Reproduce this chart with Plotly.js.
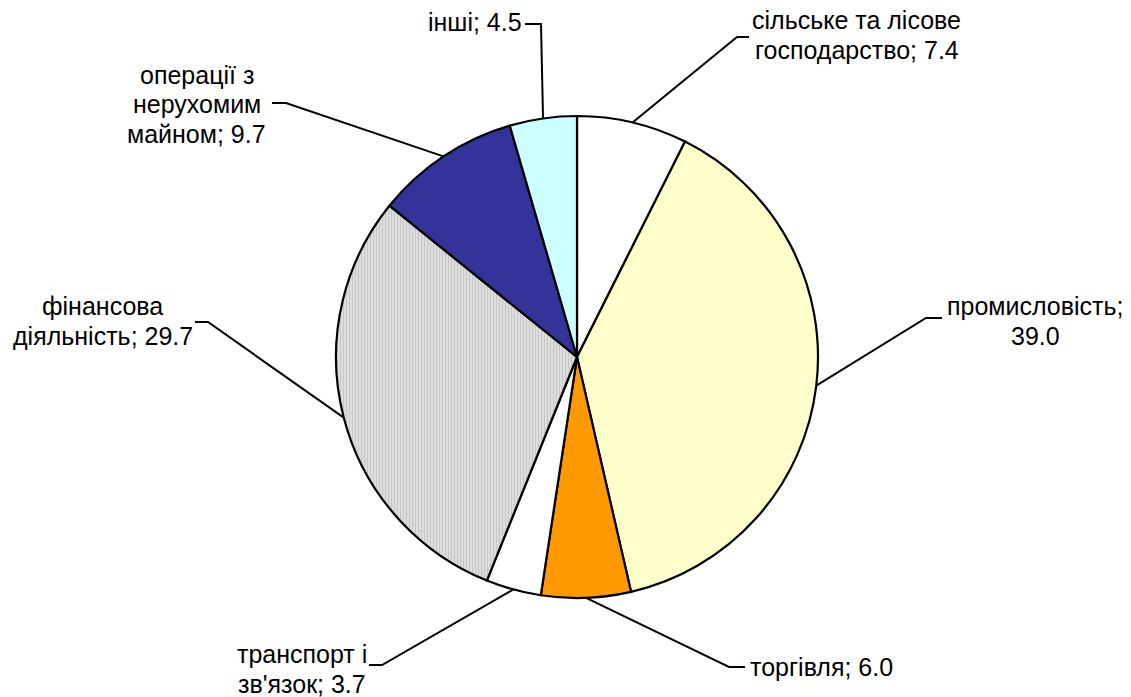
<!DOCTYPE html>
<html>
<head>
<meta charset="utf-8">
<script src="https://cdn.plot.ly/plotly-3.0.1.min.js"></script>
<style>html,body{margin:0;padding:0;background:#fff;}#chart{width:1131px;height:697px;}</style>
</head>
<body>
<div id="chart"></div>
<script>
// ---- data ----
var categories = ["сільське та лісове господарство", "промисловість", "торгівля", "транспорт і зв'язок", "фінансова діяльність", "операції з нерухомим майном", "інші"];
var values = [7.4, 39.0, 6.0, 3.7, 29.7, 9.7, 4.5];
var labelLines = [
  ["сільське та лісове", "господарство; 7.4"],
  ["промисловість;", "39.0"],
  ["торгівля; 6.0"],
  ["транспорт і", "зв'язок; 3.7"],
  ["фінансова", "діяльність; 29.7"],
  ["операції з", "нерухомим", "майном; 9.7"],
  ["інші; 4.5"]
];

// ---- style / layout ----
var colors = ["#FFFFFF", "#FFFFCC", "#FF9900", "#FFFFFF", "#DDDDDD", "#333399", "#CCFFFF"];
var patterns = ["", "", "", "", "|", "", ""];
var W = 1131, H = 697;
var cxPx = 577, cyPx = 357, rPx = 241;
var FONT_SIZE = 25, LINE_H = 29.5, FONT_FAMILY = "Liberation Sans";
// label placement (pixels from top-left): block edge (tx, side), block centre y, elbow and end of leader
var labelPos = [
  {tx: 752, side: "left",  ty: 35,  ex: 737, ey: 37,  hx: 749},
  {tx: 947, side: "left",  ty: 321, ex: 926, ey: 318, hx: 942},
  {tx: 750, side: "left",  ty: 667, ex: 729, ey: 667, hx: 745},
  {tx: 367, side: "right", ty: 669, ex: 382, ey: 665, hx: 369},
  {tx: 193, side: "right", ty: 321, ex: 208, ey: 322, hx: 195},
  {tx: 266, side: "right", ty: 104, ex: 286, ey: 103, hx: 272},
  {tx: 522, side: "right", ty: 22,  ex: 541, ey: 24,  hx: 525}
];

var domX = [(cxPx - rPx) / W, (cxPx + rPx) / W];
var domY = [(H - cyPx - rPx) / H, (H - cyPx + rPx) / H];

function px2x(x) { return x / W; }
function py2y(y) { return 1 - y / H; }

var ctx = document.createElement("canvas").getContext("2d");
ctx.font = FONT_SIZE + "px '" + FONT_FAMILY + "', Arial, sans-serif";
function tw(s) { return ctx.measureText(s).width; }

var total = values.reduce(function (a, b) { return a + b; }, 0);
var cx = (domX[0] + domX[1]) / 2 * W;
var cy = H - (domY[0] + domY[1]) / 2 * H;
var r = Math.min((domX[1] - domX[0]) * W, (domY[1] - domY[0]) * H) / 2;

var shapes = [], annotations = [];
var cum = 0;
for (var i = 0; i < values.length; i++) {
  var mid = (cum + values[i] / 2) / total * 2 * Math.PI;
  cum += values[i];
  var sx = cx + r * Math.sin(mid);
  var sy = cy - r * Math.cos(mid);
  var p = labelPos[i];
  shapes.push({
    type: "path", xref: "paper", yref: "paper",
    path: "M " + px2x(sx) + " " + py2y(sy) + " L " + px2x(p.ex) + " " + py2y(p.ey) + " L " + px2x(p.hx) + " " + py2y(p.ey),
    line: {color: "#000000", width: 2}
  });
  var lines = labelLines[i];
  var maxW = Math.max.apply(null, lines.map(tw));
  var bc = p.side === "left" ? p.tx + maxW / 2 : p.tx - maxW / 2;
  for (var j = 0; j < lines.length; j++) {
    var ly = p.ty + (j - (lines.length - 1) / 2) * LINE_H;
    annotations.push({
      xref: "paper", yref: "paper", x: px2x(bc), y: py2y(ly),
      xanchor: "center", yanchor: "middle", align: "center", showarrow: false,
      text: lines[j],
      font: {family: FONT_FAMILY + ", Arial, sans-serif", size: FONT_SIZE, color: "#000000"}
    });
  }
}

var trace = {
  type: "pie",
  labels: categories,
  values: values,
  sort: false,
  direction: "clockwise",
  rotation: 0,
  textinfo: "none",
  hoverinfo: "label+value",
  domain: {x: domX, y: domY},
  marker: {
    colors: colors,
    line: {color: "#000000", width: 2.2},
    pattern: {shape: patterns, bgcolor: colors, fgcolor: "#C4C4C4", size: 3, solidity: 0.3}
  }
};

var layout = {
  width: W, height: H,
  margin: {l: 0, r: 0, t: 0, b: 0},
  paper_bgcolor: "#FFFFFF",
  showlegend: false,
  shapes: shapes,
  annotations: annotations
};

Plotly.newPlot("chart", [trace], layout, {displayModeBar: false, staticPlot: true});
</script>
</body>
</html>
